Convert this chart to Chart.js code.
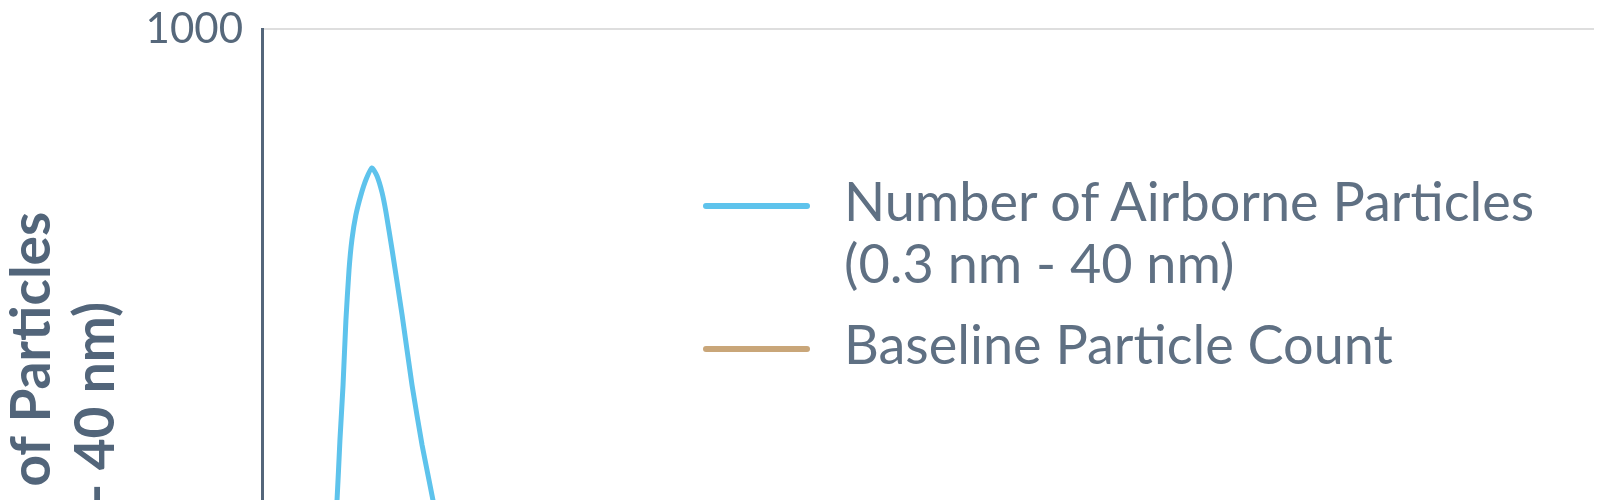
<!DOCTYPE html>
<html>
<head>
<meta charset="utf-8">
<script src="https://cdn.jsdelivr.net/npm/chart.js@4.4.1/dist/chart.umd.min.js"></script>
<style>
  html, body { margin: 0; padding: 0; background: #fff; overflow: hidden; }
  #clip { width: 1600px; height: 500px; overflow: hidden; position: relative; }
  #frame { width: 1600px; height: 800px; position: relative; }
  #legend {
    position: absolute; left: 703px; top: 170px;
    font-family: Lato, 'Open Sans', sans-serif; font-size: 54px; line-height: 62px;
    color: #5f7083;
  }
  .item { display: flex; align-items: flex-start; margin-bottom: 19px; }
  .swatch { width: 107px; height: 6px; border-radius: 3px; margin-top: 33px; margin-right: 34px; flex: none; }
  .text { white-space: pre-line; }
</style>
</head>
<body>
<div id="clip">
  <div id="frame">
    <canvas id="particleChart"></canvas>
    <div id="legend"></div>
  </div>
</div>
<script>
// Time axis (minutes) and readings
const airborneTimes = [0, 1.5, 2.6, 3.06, 3.38, 3.51, 3.65, 3.78, 3.92, 4.05, 4.23, 4.46, 4.69, 4.95, 5.18, 5.41, 5.59, 5.86, 6.31, 6.76, 7.21, 7.7, 8.24, 9.4, 12, 20, 30, 40, 50, 60];
const airborneCounts = [62, 63, 70, 149, 298, 387, 469, 566, 641, 686, 723, 753, 776, 793, 781, 756, 726, 671, 574, 469, 380, 298, 194, 75, 64, 62, 60, 61, 60, 62];
const baselineTimes = [0, 60];
const baselineCounts = [55, 55];

const seriesLabels = ['Number of Airborne Particles\n(0.3 nm - 40 nm)', 'Baseline Particle Count'];
const seriesColors = ['#5ec3ec', '#c9a679'];
const yTitle = ['Number of Particles', '(0.3 nm - 40 nm)'];
const yTickValues = [0, 1000];

function toPoints(xs, ys) {
    return xs.map((x, i) => ({ x: x, y: ys[i] }));
}

const ctx = document.getElementById('particleChart').getContext('2d');
const chart = new Chart(ctx, {
    type: 'line',
    data: {
        datasets: [{
            label: seriesLabels[0],
            data: toPoints(airborneTimes, airborneCounts),
            borderColor: seriesColors[0],
            borderWidth: 5,
            pointRadius: 0,
            tension: 0.2,
            fill: false
        }, {
            label: seriesLabels[1],
            data: toPoints(baselineTimes, baselineCounts),
            borderColor: seriesColors[1],
            borderWidth: 5,
            pointRadius: 0,
            fill: false
        }]
    },
    options: {
        responsive: true,
        maintainAspectRatio: false,
        animation: false,
        layout: { padding: { top: 29, right: 6, left: 0, bottom: 20 } },
        plugins: {
            legend: { display: false },
            tooltip: { enabled: false }
        },
        scales: {
            x: {
                type: 'linear',
                min: 0,
                max: 60,
                grid: { display: false },
                border: { color: '#54667a', width: 3 },
                ticks: { display: false },
                afterFit: function (scale) { scale.height = 80; }
            },
            y: {
                min: 0,
                max: 1000,
                afterBuildTicks: function (scale) {
                    scale.ticks = yTickValues.map(v => ({ value: v }));
                },
                grid: { color: '#dedede', lineWidth: 2, tickLength: 16, tickColor: 'rgba(0,0,0,0)' },
                border: { color: '#54667a', width: 3 },
                ticks: {
                    padding: 3,
                    color: '#56687b',
                    font: { family: 'Lato', size: 42 },
                    callback: function (value) { return String(value); }
                },
                title: {
                    display: true,
                    text: yTitle,
                    align: 'start',
                    color: '#52657a',
                    padding: 0,
                    font: { family: 'Lato', size: 55, weight: 'bold', lineHeight: 1.17 }
                },
                afterFit: function (scale) { scale.width = 262; }
            }
        }
    }
});

// Legend built from the datasets
const legend = document.getElementById('legend');
chart.data.datasets.forEach(ds => {
    const item = document.createElement('div');
    item.className = 'item';
    const swatch = document.createElement('span');
    swatch.className = 'swatch';
    swatch.style.background = ds.borderColor;
    const text = document.createElement('span');
    text.className = 'text';
    text.textContent = ds.label;
    item.appendChild(swatch);
    item.appendChild(text);
    legend.appendChild(item);
});
</script>
</body>
</html>
